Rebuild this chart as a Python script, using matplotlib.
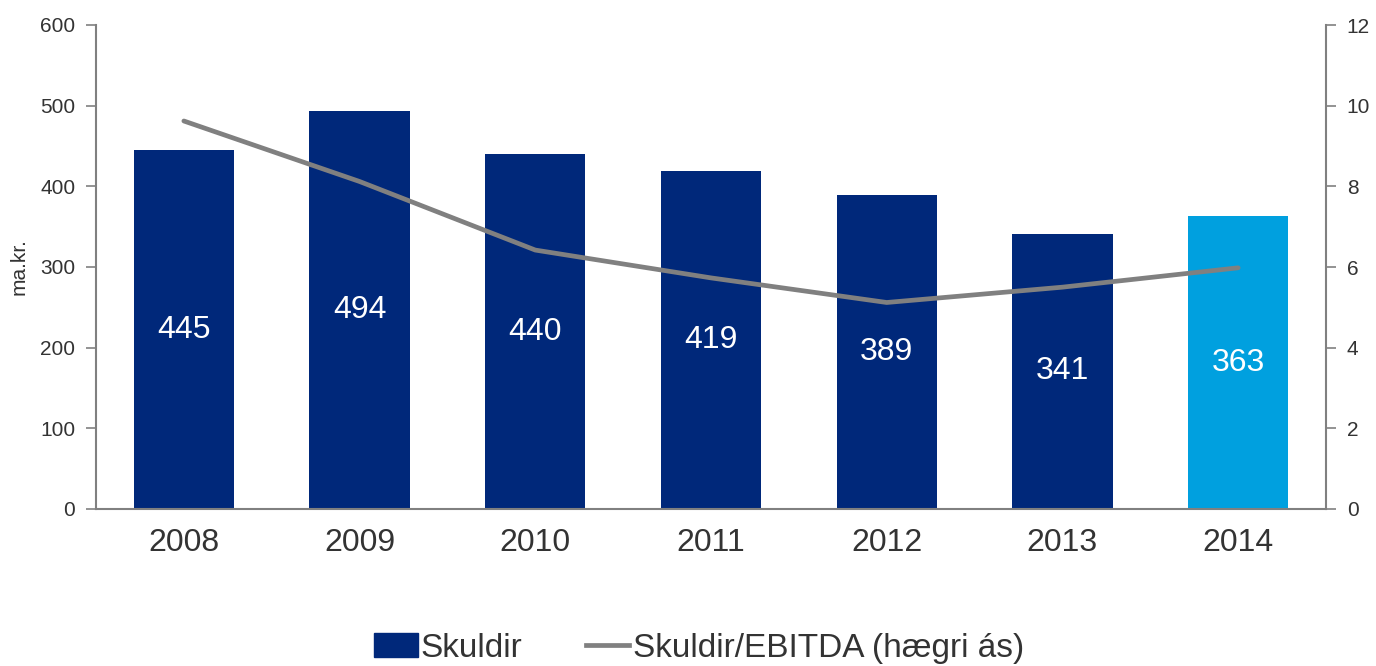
import matplotlib.pyplot as plt
import numpy as np
from matplotlib.patches import Patch
from matplotlib.lines import Line2D

plt.rcParams['font.family'] = ['Liberation Sans', 'DejaVu Sans']

years = ['2008', '2009', '2010', '2011', '2012', '2013', '2014']
skuldir = [445, 494, 440, 419, 389, 341, 363]
skuldir_ebitda = [9.62, 8.12, 6.42, 5.73, 5.12, 5.50, 5.98]

navy = '#00287A'
light = '#00A0DF'
grey = '#808080'
txt = '#333333'

fig = plt.figure(figsize=(13.76, 6.66), dpi=100)
ax = fig.add_axes([96/1376, 1-509/666, (1326-96)/1376, (509-25)/666])
ax2 = ax.twinx()

x = np.arange(len(years))
colors = [navy]*(len(years)-1) + [light]
ax.bar(x, skuldir, width=0.57, color=colors, zorder=2)
for xi, v in zip(x, skuldir):
    ax.text(xi, v/2, str(v), ha='center', va='center', color='white', fontsize=23)

ax2.plot(x, skuldir_ebitda, color=grey, lw=3.4, solid_capstyle='round', zorder=3)

ax.set_xlim(-0.5, len(years)-0.5)
ax.set_ylim(0, 600)
ax.set_yticks(range(0, 601, 100))
ax2.set_ylim(0, 12)
ax2.set_yticks(range(0, 13, 2))
ax.set_xticks(x)
ax.set_xticklabels(years, fontsize=23, color=txt)
ax.tick_params(axis='x', length=0, pad=14)
ax.tick_params(axis='y', labelsize=15, colors=grey, labelcolor=txt, length=7, width=1.2, pad=8)
ax2.tick_params(axis='y', labelsize=15, colors=grey, labelcolor=txt, length=7, width=1.2, pad=8)

for a in (ax, ax2):
    a.spines['top'].set_visible(False)
    for s in ('left', 'right', 'bottom'):
        a.spines[s].set_color(grey)
        a.spines[s].set_linewidth(1.5)
ax.spines['right'].set_visible(False)
ax2.spines['left'].set_visible(False)
ax2.spines['bottom'].set_visible(False)

ax.set_ylabel('ma.kr.', fontsize=15, color=txt, labelpad=8)

handles = [Patch(color=navy), Line2D([0], [0], color=grey, lw=3.4)]
fig.legend(handles, ['Skuldir', 'Skuldir/EBITDA (hægri ás)'], loc='center',
           bbox_to_anchor=(0.508, 0.027), ncol=2, frameon=False, fontsize=24,
           handlelength=1.3, handletextpad=0.1, columnspacing=1.9,
           labelcolor=txt)

fig.savefig('out.png', dpi=100)
